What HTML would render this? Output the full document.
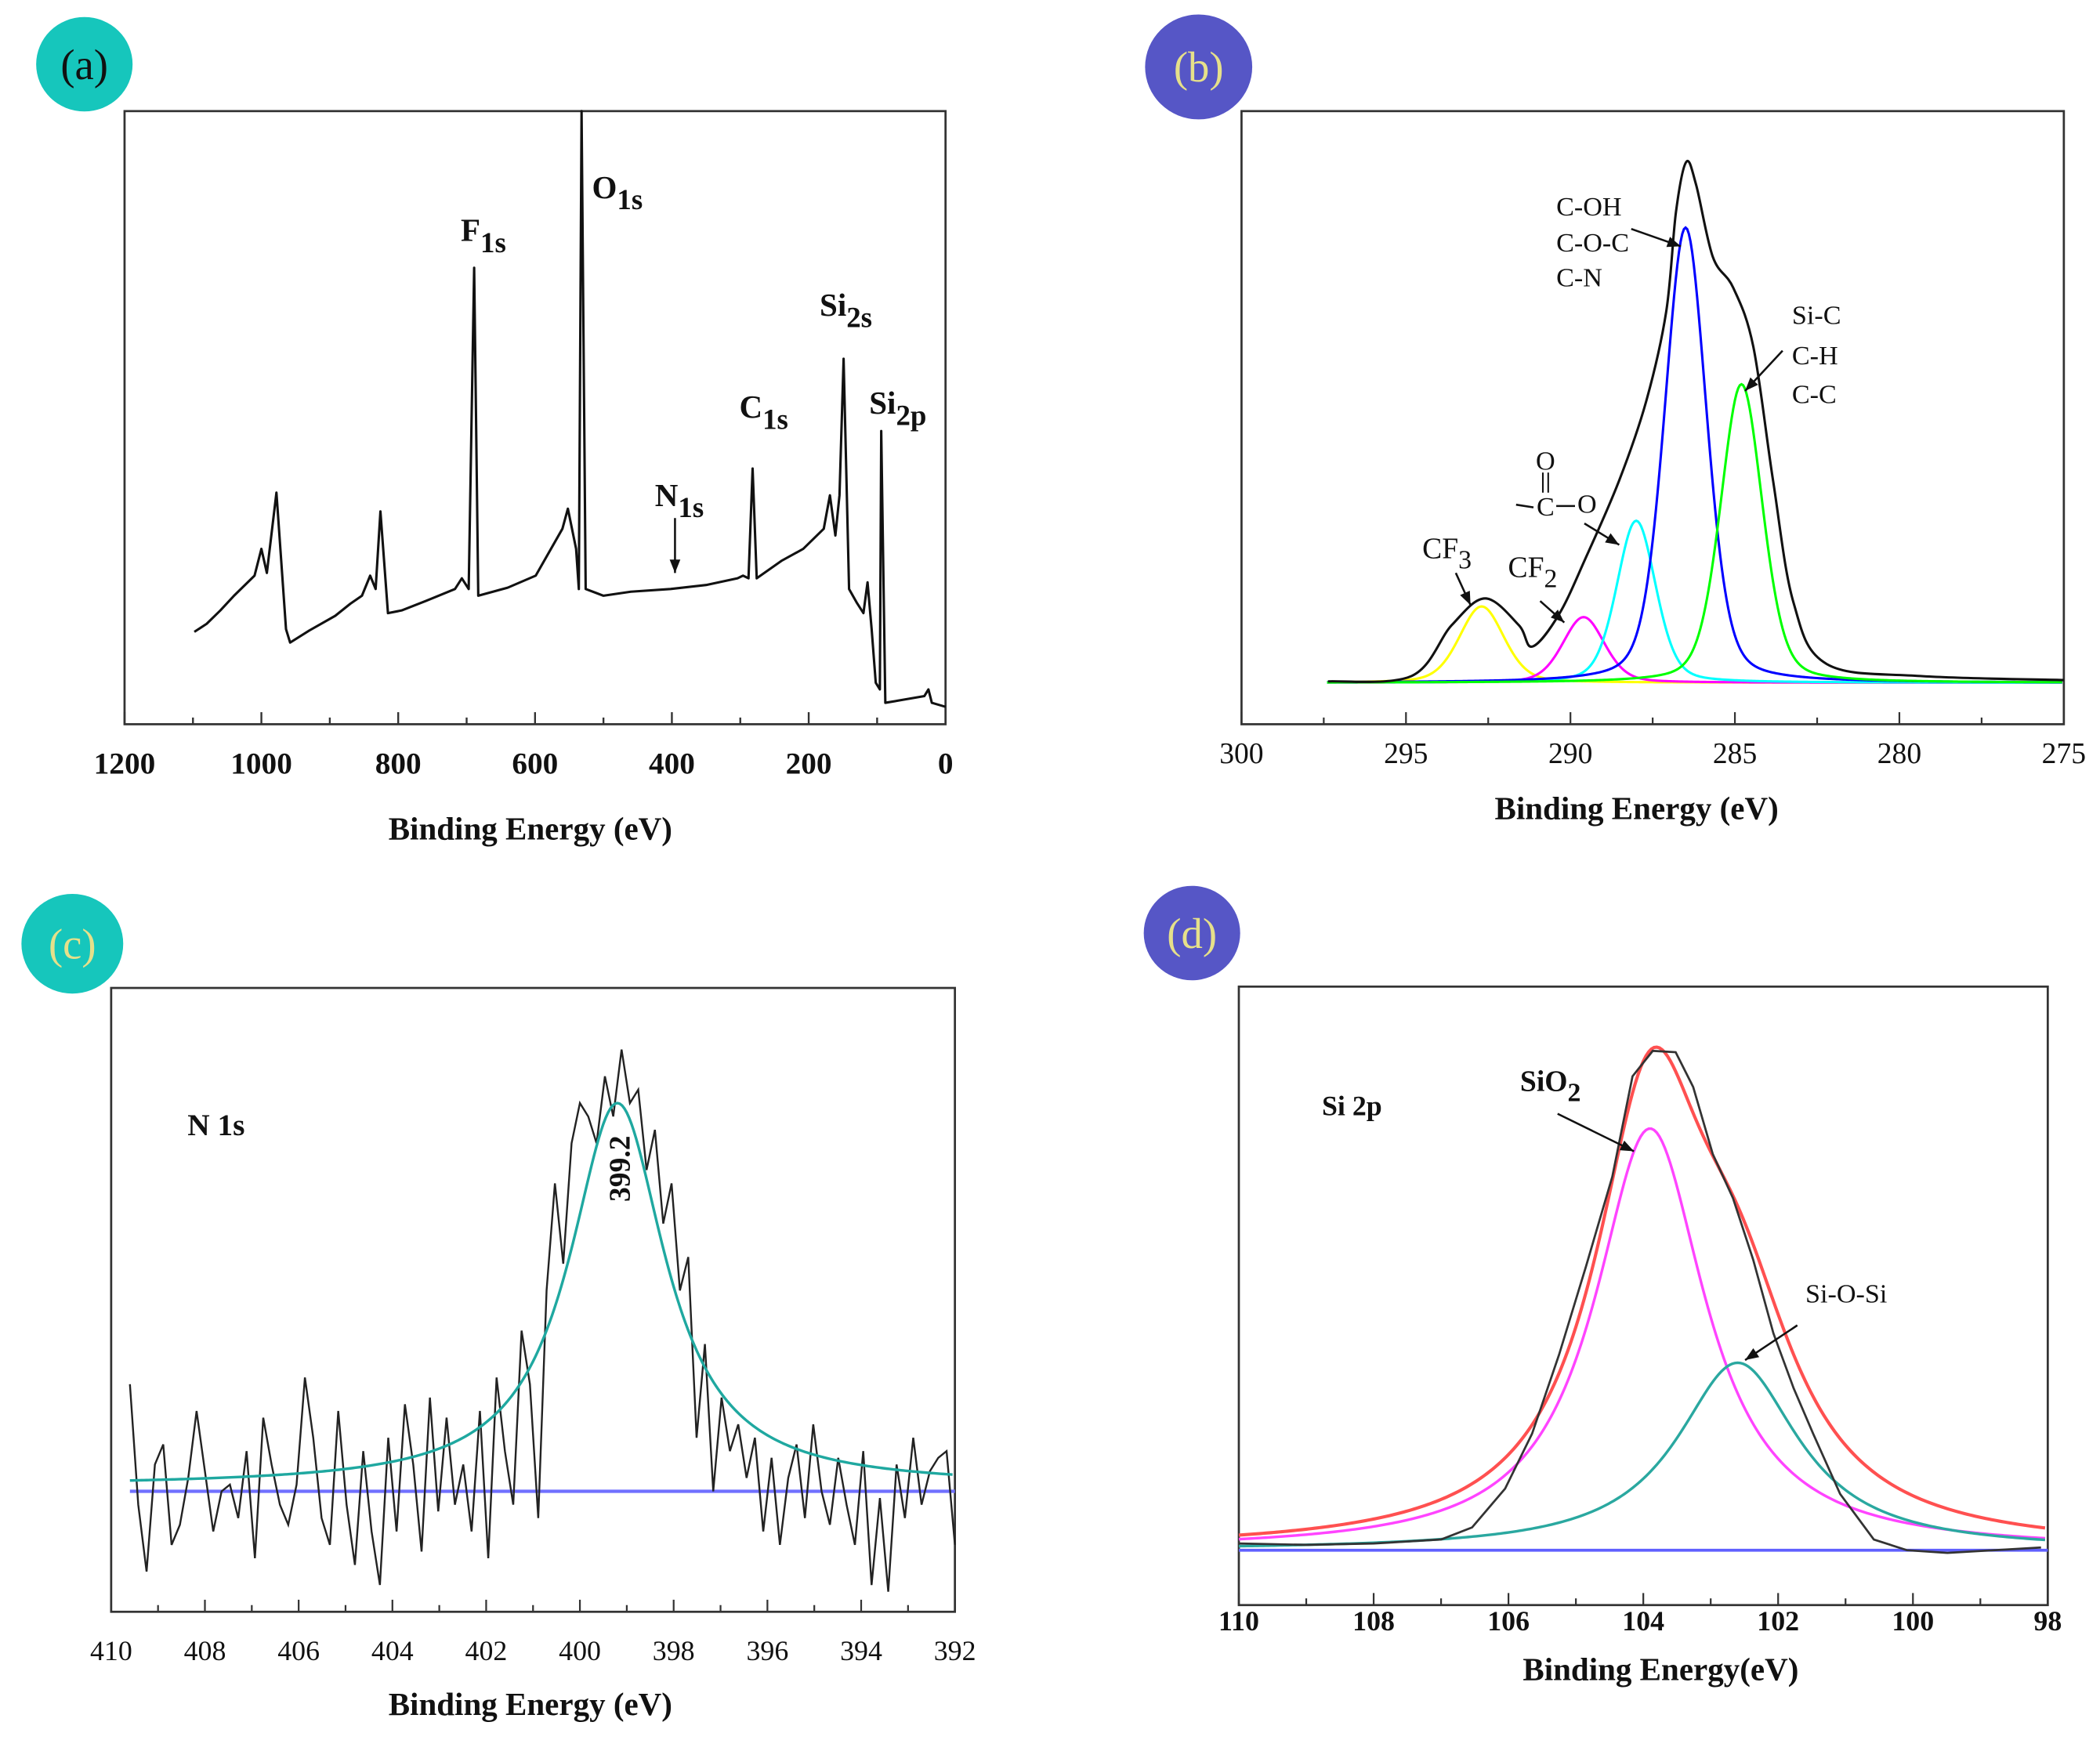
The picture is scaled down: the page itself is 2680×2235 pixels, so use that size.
<!DOCTYPE html>
<html><head><meta charset="utf-8"><style>
html,body{margin:0;padding:0;background:#fff;}
svg{display:block;}
text{font-family:"Liberation Serif",serif;}
</style></head><body>
<svg id="fig" width="2680" height="2235" viewBox="0 0 1568 1308" preserveAspectRatio="none" xmlns="http://www.w3.org/2000/svg">
<rect x="0" y="0" width="1568" height="1308" fill="#ffffff"/>
<g id="pa"></g>
<g id="pb"></g>
<g id="pc"></g>
<g id="pd"></g>
</svg>
<script>
// ---------- Panel (a) survey data ----------
const aEnergy = [1098,1080,1060,1040,1010,1000,992,978,964,958,930,892,870,853,841,833,826,815,795,760,717,707,697,689,683,640,599,560,552,540,536,532,526,500,460,402,350,304,296,288,282,276,240,208,178,169,161,155,149,141,130,120,114,108,102,96,94,88,31,25,20,0];
const aCounts = [69,75,85,96,111,131,113,173,71,61,70,81,90,96,111,101,159,83,85,92,101,109,101,341,96,102,111,146,161,131,101,458,101,96,99,101,104,109,111,109,191,109,122,131,146,171,141,171,273,101,91,83,106,71,31,26,219,16,21,26,16,13];
const aTicks = [1200,1000,800,600,400,200,0];
const aMinor = [1100,900,700,500,300,100];

// ---------- Panel (b) C1s fit ----------
const bNames = ["cf3","cf2","ester","c-oh","si-c"];
const bCenters = [292.7,289.6,288.0,286.5,284.8];
const bHeights = [57,49,121,340,223];
const bWidths = [1.6,1.5,1.4,1.5,1.5];
const bColors = ["#ffff00","#ff00ff","#00ffff","#0000ff","#00ff00"];
const bEnvE = [297.37,294.83,293.61,292.59,291.57,291.16,290.35,289.54,288.52,287.70,287.09,286.79,286.48,286.18,285.67,285.05,284.44,283.84,283.22,282.21,279.36,275.0];
const bEnvV = [1,5,43,63,43,27,51,93,151,210,277,352,389,372,318,295,251,151,60,14,5,2];
const bTicks = [300,295,290,285,280,275];
const bMinor = [297.5,292.5,287.5,282.5,277.5];

// ---------- Panel (c) N1s ----------
const cStart = 409.6, cEnd = 392.0;
const cCounts = [80,-10,-60,20,35,-40,-25,10,60,15,-30,
0,5,-20,30,-50,55,20,-10,-25,5,
85,40,-20,-40,60,-10,-55,30,-30,-70,
40,-30,65,20,-45,70,-15,55,-10,20,
-30,60,-50,85,30,-10,120,80,-20,150,
230,170,260,290,280,260,310,280,330,290,
300,240,270,200,230,150,175,40,110,0,
70,30,50,10,40,-30,25,-40,10,35,
-20,50,0,-25,25,-10,-40,30,-70,-5,
-75,20,-20,40,-10,15,25,30,-40];
const cFitCenter = 399.2, cFitHeight = 286, cFitWidth = 2.5;
const cTicks = [410,408,406,404,402,400,398,396,394,392];

// ---------- Panel (d) Si2p ----------
const dEnergy = [110,109,108,107,106.54,106.05,105.65,105.25,104.85,104.46,104.16,103.86,103.52,103.26,102.97,102.67,102.37,102.07,101.77,101.48,101.08,100.58,100.09,99.49,98.1];
const dCounts = [5,4,5,8,17,46,87,146,212,279,354,373,372,346,296,263,217,162,121,87,42,8,0,-2,2];
const dCenters = [103.9,102.6];
const dHeights = [315,140];
const dWidths = [2.0,2.2];
const dColors = ["#ff44ff","#2aa8a0"];
const dTicks = [110,108,106,104,102,100,98];

const NS="http://www.w3.org/2000/svg";
function mk(parent,tag,attrs){const e=document.createElementNS(NS,tag);for(const k in attrs)e.setAttribute(k,attrs[k]);parent.appendChild(e);return e;}
function txt(parent,x,y,s,size,weight,anchor,fill){const t=mk(parent,'text',{x:x,y:y,'font-size':size,'font-weight':weight||'normal','text-anchor':anchor||'middle',fill:fill||'#111'});t.textContent=s;return t;}
function sub(parent,x,y,main,subs,size,weight,anchor){const t=mk(parent,'text',{x:x,y:y,'font-size':size,'font-weight':weight,'text-anchor':anchor||'start',fill:'#111'});
 const a=document.createElementNS(NS,'tspan');a.textContent=main;t.appendChild(a);
 const b=document.createElementNS(NS,'tspan');b.setAttribute('dy',size*0.35);b.setAttribute('font-size',size*0.9);b.textContent=subs;t.appendChild(b);return t;}
function arrow(parent,x1,y1,x2,y2){mk(parent,'line',{x1:x1,y1:y1,x2:x2,y2:y2,stroke:'#111','stroke-width':1.5});
 const ang=Math.atan2(y2-y1,x2-x1),L=10,W=4;
 const bx=x2-L*Math.cos(ang),by=y2-L*Math.sin(ang);
 mk(parent,'polygon',{points:`${x2},${y2} ${bx-W*Math.sin(ang)},${by+W*Math.cos(ang)} ${bx+W*Math.sin(ang)},${by-W*Math.cos(ang)}`,fill:'#111'});}
function badge(parent,cx,cy,r,col,label,tcol,name){const g=mk(parent,'g',{});
 mk(g,'ellipse',{cx:cx,cy:cy,rx:r,ry:r*0.98,fill:col});txt(g,cx,cy+11,label,32,'normal','middle',tcol);}
function frame(g,x0,y0,x1,y1){const r=mk(g,'rect',{x:x0,y:y0,width:x1-x0,height:y1-y0,fill:'none',stroke:'#333','stroke-width':1.6});}
function pv(E,c,h,w){const g=h*Math.exp(-4*Math.LN2*((E-c)/w)**2);const l=h/(1+4*((E-c)/w)**2);return 0.7*g+0.3*l;}
function lor(E,c,h,w){return h/(1+4*((E-c)/w)**2);}

// ===== Panel A =====
(function(){
 const g=document.getElementById('pa');
 const X0=93,X1=706,Y0=83,Y1=541;
 const xa=E=>X0+(1200-E)/1200*(X1-X0);
 const ya=v=>Y1-v;
 badge(g,63,48,36,'#16c6bc','(a)','#111','badge-a');
 frame(g,X0,Y0,X1,Y1);
 aMinor.forEach(t=>mk(g,'line',{x1:xa(t),y1:Y1,x2:xa(t),y2:Y1-5,stroke:'#333','stroke-width':1.4}));
 aTicks.forEach(t=>{mk(g,'line',{x1:xa(t),y1:Y1,x2:xa(t),y2:Y1-9,stroke:'#333','stroke-width':1.4});
  const l=txt(g,xa(t),578,String(t),23,'bold');});
 const xt=txt(g,396,627,'Binding Energy (eV)',24,'bold');
 const p=mk(g,'polyline',{points:aEnergy.map((e,i)=>xa(e)+','+ya(aCounts[i])).join(' '),fill:'none',stroke:'#111','stroke-width':1.8,'stroke-linejoin':'round'});
 
 sub(g,344,180,'F','1s',24,'bold');
 sub(g,442,148,'O','1s',24,'bold');
 sub(g,612,236,'Si','2s',24,'bold');
 sub(g,552,312,'C','1s',24,'bold');
 sub(g,649,309,'Si','2p',24,'bold');
 sub(g,489,378,'N','1s',24,'bold');
 arrow(g,504,387,504,428);
})();

// ===== Panel B =====
(function(){
 const g=document.getElementById('pb');
 const X0=927,X1=1541,Y0=83,Y1=541,BASE=510;
 const xb=E=>X0+(300-E)/25*(X1-X0);
 const yb=v=>BASE-v;
 badge(g,895,50,40,'#5656c6','(b)','#e6e08a','badge-b');
 frame(g,X0,Y0,X1,Y1);
 bMinor.forEach(t=>mk(g,'line',{x1:xb(t),y1:Y1,x2:xb(t),y2:Y1-5,stroke:'#333','stroke-width':1.3}));
 bTicks.forEach(t=>{mk(g,'line',{x1:xb(t),y1:Y1,x2:xb(t),y2:Y1-9,stroke:'#333','stroke-width':1.3});
  const l=txt(g,xb(t),570,String(t),22,'normal');});
 const xt=txt(g,1222,612,'Binding Energy (eV)',24,'bold');
 const Es=[];for(let E=297.4;E>=275.0;E-=0.05)Es.push(E);
 bCenters.forEach((c,i)=>{
  const pl=mk(g,'polyline',{points:Es.map(E=>xb(E)+','+yb(pv(E,c,bHeights[i],bWidths[i]))).join(' '),fill:'none',stroke:bColors[i],'stroke-width':1.8});
  });
 // smooth envelope through measured points
 const pts=bEnvE.map((e,i)=>[xb(e),yb(bEnvV[i])]);
 let dstr='M'+pts[0][0]+','+pts[0][1];
 for(let i=0;i<pts.length-1;i++){const p0=pts[Math.max(0,i-1)],p1=pts[i],p2=pts[i+1],p3=pts[Math.min(pts.length-1,i+2)];
  const c1x=p1[0]+(p2[0]-p0[0])/6,c1y=p1[1]+(p2[1]-p0[1])/6,c2x=p2[0]-(p3[0]-p1[0])/6,c2y=p2[1]-(p3[1]-p1[1])/6;
  dstr+=` C${c1x},${c1y} ${c2x},${c2y} ${p2[0]},${p2[1]}`;}
 const env=mk(g,'path',{d:dstr,fill:'none',stroke:'#111','stroke-width':1.8});
 
 txt(g,1162,161,'C-OH',20,'normal','start');txt(g,1162,188,'C-O-C',20,'normal','start');txt(g,1162,214,'C-N',20,'normal','start');
 arrow(g,1218,171,1255,184);
 txt(g,1338,242,'Si-C',20,'normal','start');txt(g,1338,272,'C-H',20,'normal','start');txt(g,1338,301,'C-C',20,'normal','start');
 arrow(g,1331,262,1303,292);
 sub(g,1062,417,'CF','3',22,'normal');arrow(g,1087,428,1098,452);
 sub(g,1126,431,'CF','2',22,'normal');arrow(g,1150,449,1168,465);
 txt(g,1154,351,'O',20,'normal');mk(g,'line',{x1:1152,y1:353,x2:1152,y2:368,stroke:'#111','stroke-width':1.2});mk(g,'line',{x1:1156,y1:353,x2:1156,y2:368,stroke:'#111','stroke-width':1.2});
 mk(g,'line',{x1:1132,y1:377,x2:1145,y2:379,stroke:'#111','stroke-width':1.5});
 txt(g,1154,385,'C',20,'normal');mk(g,'line',{x1:1162,y1:378,x2:1176,y2:378,stroke:'#111','stroke-width':1.5});
 txt(g,1185,383,'O',20,'normal');
 arrow(g,1183,391,1209,407);
})();

// ===== Panel C =====
(function(){
 const g=document.getElementById('pc');
 const X0=83,X1=713,Y0=738,Y1=1204,BASE=1114;
 const xc=E=>X0+(410-E)/18*(X1-X0);
 const yc=v=>BASE-v;
 badge(g,54,705,38,'#16c6bc','(c)','#e6e08a','badge-c');
 frame(g,X0,Y0,X1,Y1);
 cTicks.forEach(t=>{mk(g,'line',{x1:xc(t),y1:Y1,x2:xc(t),y2:Y1-9,stroke:'#333','stroke-width':1.3});
  if(t>392){mk(g,'line',{x1:xc(t-1),y1:Y1,x2:xc(t-1),y2:Y1-5,stroke:'#333','stroke-width':1.3});}
  const l=txt(g,xc(t),1240,String(t),21,'normal');});
 const xt=txt(g,396,1281,'Binding Energy (eV)',24,'bold');
 const bl=mk(g,'line',{x1:xc(409.6),y1:BASE,x2:X1,y2:BASE,stroke:'#7070ff','stroke-width':2.5});
 const step=(cStart-cEnd)/(cCounts.length-1);
 const d=mk(g,'polyline',{points:cCounts.map((v,i)=>xc(cStart-i*step)+','+yc(v)).join(' '),fill:'none',stroke:'#222','stroke-width':1.4});
 
 const Es=[];for(let E=cStart;E>=cEnd;E-=0.05)Es.push(E);
 const f=mk(g,'polyline',{points:Es.map(E=>xc(E)+','+yc(4+lor(E,cFitCenter,cFitHeight,cFitWidth))).join(' '),fill:'none',stroke:'#1fa8a0','stroke-width':2});
 
 txt(g,140,848,'N 1s',23,'bold','start');
 const pk=txt(g,0,0,'399.2',22,'bold');pk.setAttribute('transform','translate(470,873) rotate(-90)');
})();

// ===== Panel D =====
(function(){
 const g=document.getElementById('pd');
 const X0=925,X1=1529,Y0=737,Y1=1199,BASE=1158;
 const xd=E=>X0+(110-E)/12*(X1-X0);
 const yd=v=>BASE-v;
 badge(g,890,697,36,'#5656c6','(d)','#e6e08a','badge-d');
 frame(g,X0,Y0,X1,Y1);
 dTicks.forEach(t=>{mk(g,'line',{x1:xd(t),y1:Y1,x2:xd(t),y2:Y1-9,stroke:'#333','stroke-width':1.3});
  if(t>98){mk(g,'line',{x1:xd(t-1),y1:Y1,x2:xd(t-1),y2:Y1-5,stroke:'#333','stroke-width':1.3});}
  const l=txt(g,xd(t),1218,String(t),21,'bold');});
 const xt=txt(g,1240,1255,'Binding Energy(eV)',24,'bold');
 const bl=mk(g,'line',{x1:X0,y1:BASE,x2:X1,y2:BASE,stroke:'#6060ff','stroke-width':2.2});
 const Es=[];for(let E=110;E>=98;E-=0.04)Es.push(E);
 const names=['sio2-fit','si-o-si-fit'];
 dCenters.forEach((c,i)=>{const pl=mk(g,'polyline',{points:Es.map(E=>xd(E)+','+yd(lor(E,c,dHeights[i],dWidths[i]))).join(' '),fill:'none',stroke:dColors[i],'stroke-width':2});
  });
 const env=mk(g,'polyline',{points:Es.map(E=>{let s=0;dCenters.forEach((c,i)=>s+=lor(E,c,dHeights[i],dWidths[i]));return xd(E)+','+yd(s);}).join(' '),fill:'none',stroke:'#ff5050','stroke-width':2.4});
 
 const d=mk(g,'polyline',{points:dEnergy.map((e,i)=>xd(e)+','+yd(dCounts[i])).join(' '),fill:'none',stroke:'#333','stroke-width':1.6});
 
 txt(g,987,833,'Si 2p',21,'bold','start');
 sub(g,1135,815,'SiO','2',22,'bold');arrow(g,1163,832,1220,860);
 txt(g,1348,973,'Si-O-Si',20,'normal','start');arrow(g,1342,990,1303,1016);
})();
</script>
</body></html>
